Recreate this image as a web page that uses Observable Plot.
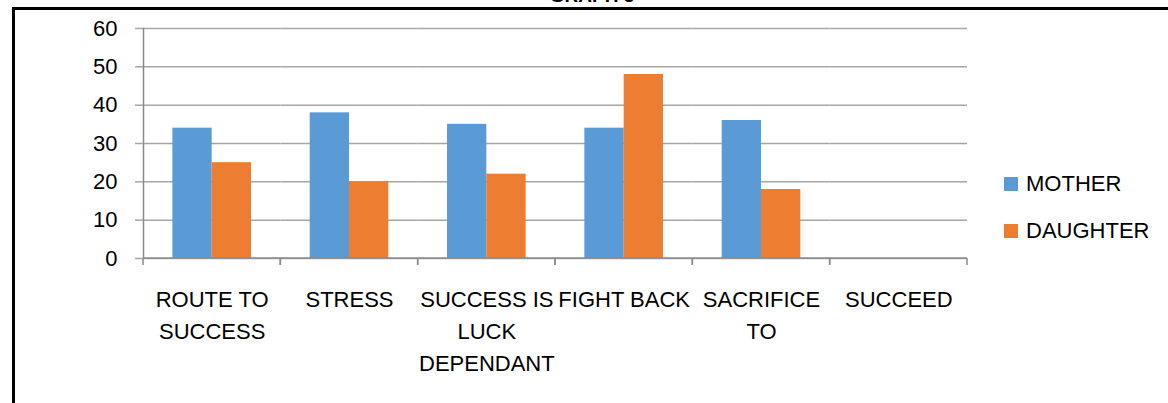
<!DOCTYPE html>
<html>
<head>
<meta charset="utf-8">
<script src="https://cdn.jsdelivr.net/npm/d3@7"></script>
<script src="https://cdn.jsdelivr.net/npm/@observablehq/plot@0.6"></script>
<style>
  body { margin: 0; background: #fff; font-family: "Liberation Sans", Arial, sans-serif; }
  #wrap { position: relative; width: 1168px; height: 403px; overflow: hidden; background: #fff; }
  #chart { position: absolute; left: 0; top: 0; }
  #title { position: absolute; left: 542px; width: 100px; top: -15px; text-align: center; font-weight: bold; font-size: 19px; line-height: 22px; color: #000; }
  #topBorder { position: absolute; left: 12px; right: 0; top: 7px; height: 3px; background: #000; }
  #leftBorder { position: absolute; left: 12px; width: 3px; top: 7px; bottom: 0; background: #000; }
  .leg { position: absolute; left: 1004px; display: flex; align-items: center; font-size: 22px; color: #000; height: 24px; }
  .leg span.sw { display: inline-block; width: 14px; height: 14px; margin-right: 8px; }
</style>
</head>
<body>
<div id="wrap">
  <div id="title">GRAPH 3</div>
  <div id="chart"></div>
  <div id="legend"></div>
  <div id="topBorder"></div>
  <div id="leftBorder"></div>
</div>
<script>
const categories = ["ROUTE TO\nSUCCESS", "STRESS", "SUCCESS IS\nLUCK\nDEPENDANT", "FIGHT BACK", "SACRIFICE\nTO", "SUCCEED"];
const series = ["MOTHER", "DAUGHTER"];
const motherValues = [34, 38, 35, 34, 36, 0];
const daughterValues = [25, 20, 22, 48, 18, 0];
const yTicks = [0, 10, 20, 30, 40, 50, 60];
const seriesColors = ["#5B9BD5", "#ED7D31"];

const data = categories.flatMap((c, i) => [
  {category: c, series: "MOTHER", value: motherValues[i]},
  {category: c, series: "DAUGHTER", value: daughterValues[i]}
]);

const gridColor = "#a6a6a6";
const axisColor = "#8a8a8a";

// category boundary ticks + x axis line segment, drawn in each facet
function boundaryTicks(index, scales, values, dimensions) {
  const g = d3.create("svg:g");
  const y0 = scales.y(0);
  const left = dimensions.marginLeft;
  const bw = scales.fx && scales.fx.bandwidth ? scales.fx.bandwidth() : (dimensions.width - dimensions.marginLeft - dimensions.marginRight);
  const right = left + bw;
  for (const xv of [left, right]) {
    g.append("line").attr("x1", xv).attr("x2", xv).attr("y1", y0).attr("y2", y0 + 7)
      .attr("stroke", axisColor).attr("stroke-width", 1.5);
  }
  g.append("line").attr("x1", left).attr("x2", right).attr("y1", y0).attr("y2", y0)
    .attr("stroke", axisColor).attr("stroke-width", 1.5);
  return g.node();
}

const chart = Plot.plot({
  width: 1168,
  height: 403,
  marginTop: 28,
  marginBottom: 145,
  marginLeft: 143,
  marginRight: 201,
  style: {fontFamily: "Liberation Sans, Arial, sans-serif", fontSize: "22px", color: "#000", background: "transparent"},
  fx: {domain: categories, padding: 0, round: false},
  x: {domain: series, paddingInner: 0, paddingOuter: 0.747, round: false, axis: null},
  y: {domain: [0, 60]},
  color: {domain: series, range: seriesColors},
  marks: [
    Plot.gridY(yTicks, {stroke: gridColor, strokeOpacity: 1, strokeWidth: 1.5}),
    Plot.barY(data, {fx: "category", x: "series", y: "value", fill: "series"}),
    Plot.frame({anchor: "left", facetAnchor: "left", stroke: axisColor, strokeWidth: 1.5}),
    boundaryTicks,
    Plot.axisY({ticks: yTicks, tickSize: 8, tickPadding: 18, stroke: gridColor, strokeWidth: 1.5, fill: "#000", fontSize: 22, label: null}),
    Plot.axisFx({anchor: "bottom", tickSize: 0, tickPadding: 26, lineHeight: 1.45, fontSize: 22, fill: "#000", label: null})
  ]
});
document.getElementById("chart").appendChild(chart);

const legend = document.getElementById("legend");
const legendTops = [172, 219];
series.forEach((s, i) => {
  const d = document.createElement("div");
  d.className = "leg";
  d.style.top = legendTops[i] + "px";
  const sw = document.createElement("span");
  sw.className = "sw";
  sw.style.background = seriesColors[i];
  d.appendChild(sw);
  d.appendChild(document.createTextNode(s));
  legend.appendChild(d);
});
</script>
</body>
</html>
